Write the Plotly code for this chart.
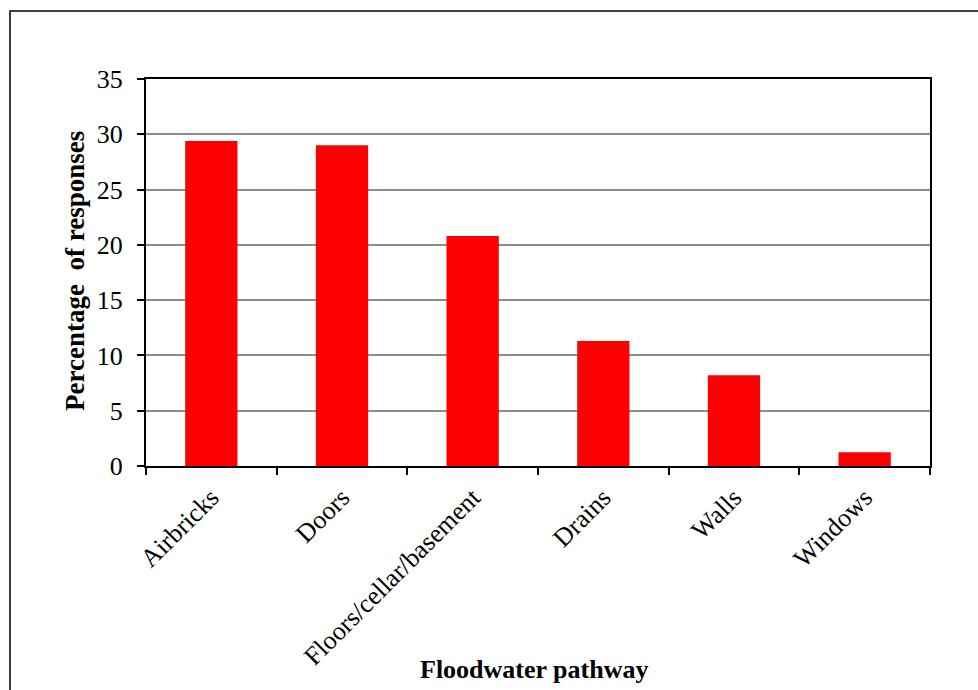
import plotly.graph_objects as go

pathways = ["Airbricks", "Doors", "Floors/cellar/basement", "Drains", "Walls", "Windows"]
percentages = [29.4, 29.0, 20.8, 11.3, 8.2, 1.25]
y_ticks = [0, 5, 10, 15, 20, 25, 30, 35]

W, H = 978, 690
L, R, T, B = 146, 48, 79, 224
plot_w = W - L - R
plot_h = H - T - B

def px_x(p):
    return (p - L) / plot_w

def px_y(p):
    return (H - B - p) / plot_h

font_family = "Liberation Serif, Times New Roman, serif"

fig = go.Figure(
    go.Bar(
        x=pathways,
        y=percentages,
        marker=dict(color="#FF0000", line=dict(width=0)),
        hoverinfo="x+y",
    )
)

fig.update_layout(
    width=W,
    height=H,
    margin=dict(l=L, r=R, t=T, b=B, pad=0),
    paper_bgcolor="white",
    plot_bgcolor="white",
    bargap=0.6,
    showlegend=False,
    font=dict(family=font_family, color="black"),
)

fig.update_xaxes(
    type="category",
    tickson="boundaries",
    ticks="outside",
    ticklen=7,
    tickwidth=2,
    tickcolor="black",
    tickangle=-45,
    tickfont=dict(size=26, family=font_family, color="black"),
    ticklabelstandoff=4,
    showgrid=False,
    showline=True,
    linecolor="black",
    linewidth=2,
    mirror=True,
)

fig.update_yaxes(
    range=[0, 35],
    tickvals=y_ticks,
    ticks="outside",
    ticklen=7,
    tickwidth=2,
    tickcolor="black",
    tickfont=dict(size=26, family=font_family, color="black"),
    ticklabelstandoff=9,
    showgrid=True,
    gridcolor="#8c8c8c",
    gridwidth=1.5,
    showline=True,
    linecolor="black",
    linewidth=2,
    mirror=True,
    zeroline=False,
)

# axis titles
fig.add_annotation(
    text="<b>Percentage  of responses</b>",
    xref="paper", yref="paper",
    x=px_x(75), y=px_y(271),
    textangle=-90,
    showarrow=False,
    font=dict(size=27, family=font_family, color="black"),
    xanchor="center", yanchor="middle",
)
fig.add_annotation(
    text="<b>Floodwater pathway</b>",
    xref="paper", yref="paper",
    x=px_x(534), y=px_y(669),
    showarrow=False,
    font=dict(size=26, family=font_family, color="black"),
    xanchor="center", yanchor="middle",
)

# outer chart frame
fig.add_shape(
    type="rect",
    xref="paper", yref="paper",
    x0=px_x(10), x1=px_x(1000),
    y0=px_y(720), y1=px_y(11),
    line=dict(color="black", width=1.5),
    fillcolor="rgba(0,0,0,0)",
    layer="below",
)

fig.write_html("out.html")
